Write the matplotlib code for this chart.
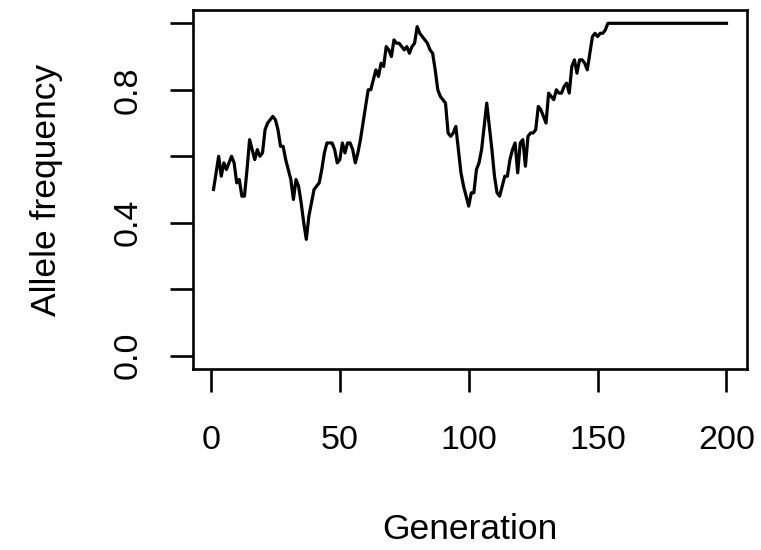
import numpy as np
import matplotlib.pyplot as plt

plt.rcParams['font.family'] = ['Liberation Sans', 'DejaVu Sans']

# allele frequency per generation (1..200)
freq_1_60 = [0.50, 0.55, 0.60, 0.54, 0.58, 0.56, 0.58, 0.60, 0.58, 0.52,
             0.53, 0.48, 0.48, 0.56, 0.65, 0.62, 0.59, 0.62, 0.60, 0.61,
             0.68, 0.70, 0.71, 0.72, 0.71, 0.68, 0.63, 0.63, 0.59, 0.56,
             0.53, 0.47, 0.53, 0.51, 0.46, 0.40, 0.35, 0.42, 0.46, 0.50,
             0.51, 0.52, 0.56, 0.61, 0.64, 0.64, 0.64, 0.62, 0.58, 0.59,
             0.64, 0.61, 0.64, 0.64, 0.62, 0.58, 0.61, 0.65, 0.70, 0.75]
freq_61_120 = [0.80, 0.80, 0.83, 0.86, 0.84, 0.88, 0.87, 0.93, 0.92, 0.90,
               0.95, 0.94, 0.94, 0.93, 0.92, 0.93, 0.91, 0.93, 0.94, 0.99,
               0.97, 0.96, 0.95, 0.94, 0.92, 0.91, 0.86, 0.80, 0.78, 0.77,
               0.76, 0.67, 0.66, 0.67, 0.69, 0.62, 0.55, 0.51, 0.48, 0.45,
               0.49, 0.49, 0.56, 0.58, 0.62, 0.69, 0.76, 0.69, 0.62, 0.54,
               0.49, 0.48, 0.51, 0.54, 0.54, 0.59, 0.62, 0.64, 0.55, 0.64]
freq_121_154 = [0.65, 0.57, 0.66, 0.67, 0.67, 0.68, 0.75, 0.74, 0.72, 0.70,
                0.79, 0.78, 0.77, 0.80, 0.79, 0.79, 0.81, 0.82, 0.79, 0.87,
                0.89, 0.85, 0.89, 0.89, 0.88, 0.86, 0.91, 0.96, 0.97, 0.96,
                0.97, 0.97, 0.98, 1.00]
fixed_after = [1.00] * 46   # generations 155..200, allele fixed

freq = np.array(freq_1_60 + freq_61_120 + freq_121_154 + fixed_after)
generation = np.arange(1, len(freq) + 1)

x_ticks = [0, 50, 100, 150, 200]
y_ticks = [0.0, 0.2, 0.4, 0.6, 0.8, 1.0]
y_labels = ['0.0', '', '0.4', '', '0.8', '']

fig = plt.figure(figsize=(7.61, 5.50), dpi=100)
ax = fig.add_axes([0.2536, 0.3291, 0.728, 0.6527])

ax.plot(generation, freq, color='black', lw=2.3)

ax.set_xlim(-6.96, 207.96)
ax.set_ylim(-0.04, 1.04)
ax.set_xticks(x_ticks)
ax.set_yticks(y_ticks)
ax.set_yticklabels(y_labels)

for s in ax.spines.values():
    s.set_linewidth(1.9)

ax.tick_params(axis='both', direction='out', length=16.5, width=1.9,
               labelsize=24.5)
ax.tick_params(axis='x', pad=24)
ax.tick_params(axis='y', pad=19)
for lab in ax.get_yticklabels():
    lab.set_rotation(90)
    lab.set_va('center')

ax.set_xlabel('Generation', fontsize=25.5, labelpad=41)
ax.set_ylabel('Allele frequency', fontsize=25.5, labelpad=36)

fig.savefig('out.png', dpi=100)
